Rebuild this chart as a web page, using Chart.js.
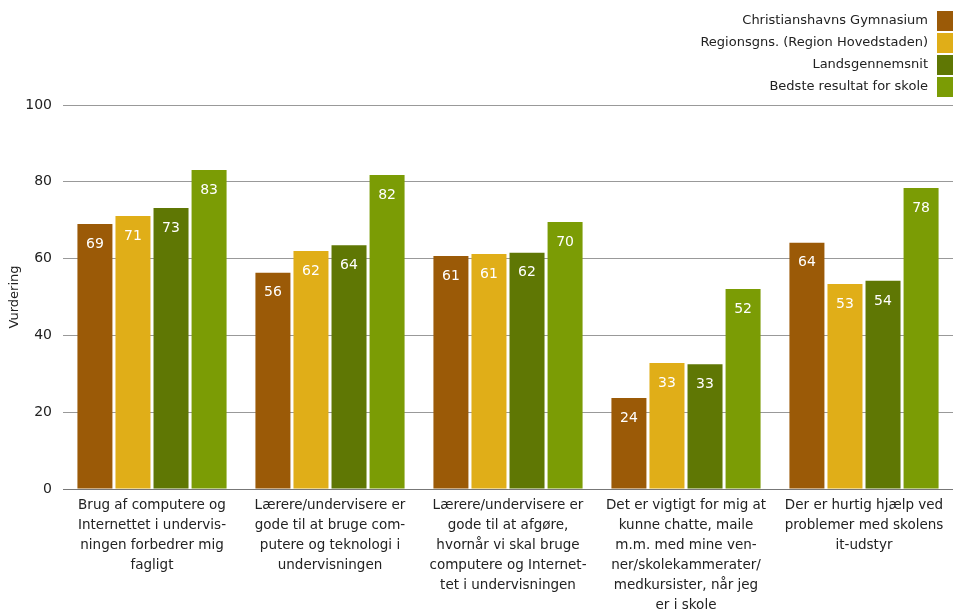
<!DOCTYPE html>
<html>
<head>
<meta charset="utf-8">
<script src="https://cdn.jsdelivr.net/npm/chart.js@4"></script>
<style>
  html, body { margin: 0; padding: 0; background: #fff; }
  #wrap { width: 953px; height: 612px; }
</style>
</head>
<body>
<div id="wrap"><canvas id="myCanvas"></canvas></div>
<script>
// kategorier (akse-labels, allerede delt i linjer)
const categories = [
   ["Brug af computere og", "Internettet i undervis-", "ningen forbedrer mig", "fagligt"],
   ["Lærere/undervisere er", "gode til at bruge com-", "putere og teknologi i", "undervisningen"],
   ["Lærere/undervisere er", "gode til at afgøre,", "hvornår vi skal bruge", "computere og Internet-", "tet i undervisningen"],
   ["Det er vigtigt for mig at", "kunne chatte, maile", "m.m. med mine ven-", "ner/skolekammerater/", "medkursister, når jeg", "er i skole"],
   ["Der er hurtig hjælp ved", "problemer med skolens", "it-udstyr"]
];

const seriesNames = [
   "Christianshavns Gymnasium",
   "Regionsgns. (Region Hovedstaden)",
   "Landsgennemsnit",
   "Bedste resultat for skole"
];

const gymnasium = [69.0, 56.3, 60.7, 23.7, 64.1];
const region = [71.1, 62.0, 61.2, 32.8, 53.4];
const lands = [73.2, 63.5, 61.5, 32.5, 54.2];
const bedste = [83.1, 81.8, 69.5, 52.1, 78.4];

const yTicks = [0, 20, 40, 60, 80, 100];

const colors = ['#9b5a07', '#e0ae18', '#5f7704', '#7b9c05'];

const font = "'DejaVu Sans', sans-serif";

// legende tegnes selv: tekst til venstre, farvefelt til højre
const legendPlugin = {
   id: 'customLegend',
   afterDraw(chart) {
      const c = chart.ctx;
      c.save();
      c.font = '13px ' + font;
      c.textAlign = 'right';
      c.textBaseline = 'middle';
      chart.data.datasets.forEach(function(ds, i) {
         const y = 21 + i * 22;
         c.fillStyle = ds.backgroundColor;
         c.fillRect(937, y - 10, 16, 20);
         c.fillStyle = '#222';
         c.fillText(ds.label, 928, y);
      });
      c.restore();
   }
};

// værdier i hvid inde i søjlerne
const valuePlugin = {
   id: 'values',
   afterDatasetsDraw(chart) {
      const c = chart.ctx;
      c.save();
      c.font = '14px ' + font;
      c.fillStyle = '#fff';
      c.textAlign = 'center';
      c.textBaseline = 'middle';
      chart.data.datasets.forEach(function(ds, i) {
         chart.getDatasetMeta(i).data.forEach(function(bar, j) {
            c.fillText(Math.round(ds.data[j]), bar.x, bar.y + 20);
         });
      });
      c.restore();
   }
};

const canvas = document.getElementById('myCanvas');
const ctx = canvas.getContext('2d');
const myChart = new Chart(ctx, {
   type: 'bar',
   data: {
      labels: categories,
      datasets: [gymnasium, region, lands, bedste].map(function(d, i) {
         return {
            label: seriesNames[i],
            data: d,
            backgroundColor: colors[i],
            barPercentage: 0.92,
            categoryPercentage: 0.855
         };
      })
   },
   options: {
      responsive: true,
      maintainAspectRatio: false,
      animation: false,
      layout: { padding: { top: 105, right: 0, left: 0, bottom: 0 } },
      plugins: {
         legend: { display: false },
         tooltip: { enabled: false }
      },
      scales: {
         x: {
            grid: { display: false, drawTicks: false },
            border: { color: '#777', width: 1 },
            afterFit: function(axis) { axis.height = 123; },
            ticks: {
               autoSkip: false,
               maxRotation: 0,
               padding: 7,
               color: '#222',
               font: { family: font, size: 13.5, lineHeight: 1.48 }
            }
         },
         y: {
            min: 0,
            max: 100,
            afterBuildTicks: function(axis) {
               axis.ticks = yTicks.map(function(v) { return { value: v }; });
            },
            afterFit: function(axis) { axis.width = 63; },
            grid: { color: '#999', lineWidth: 1, drawTicks: false },
            border: { display: false },
            ticks: {
               padding: 11,
               color: '#222',
               font: { family: font, size: 14 }
            },
            title: {
               display: true,
               text: 'Vurdering',
               color: '#222',
               padding: { top: 7, bottom: 4 },
               font: { family: font, size: 13 }
            }
         }
      }
   },
   plugins: [legendPlugin, valuePlugin]
});
</script>
</body>
</html>
